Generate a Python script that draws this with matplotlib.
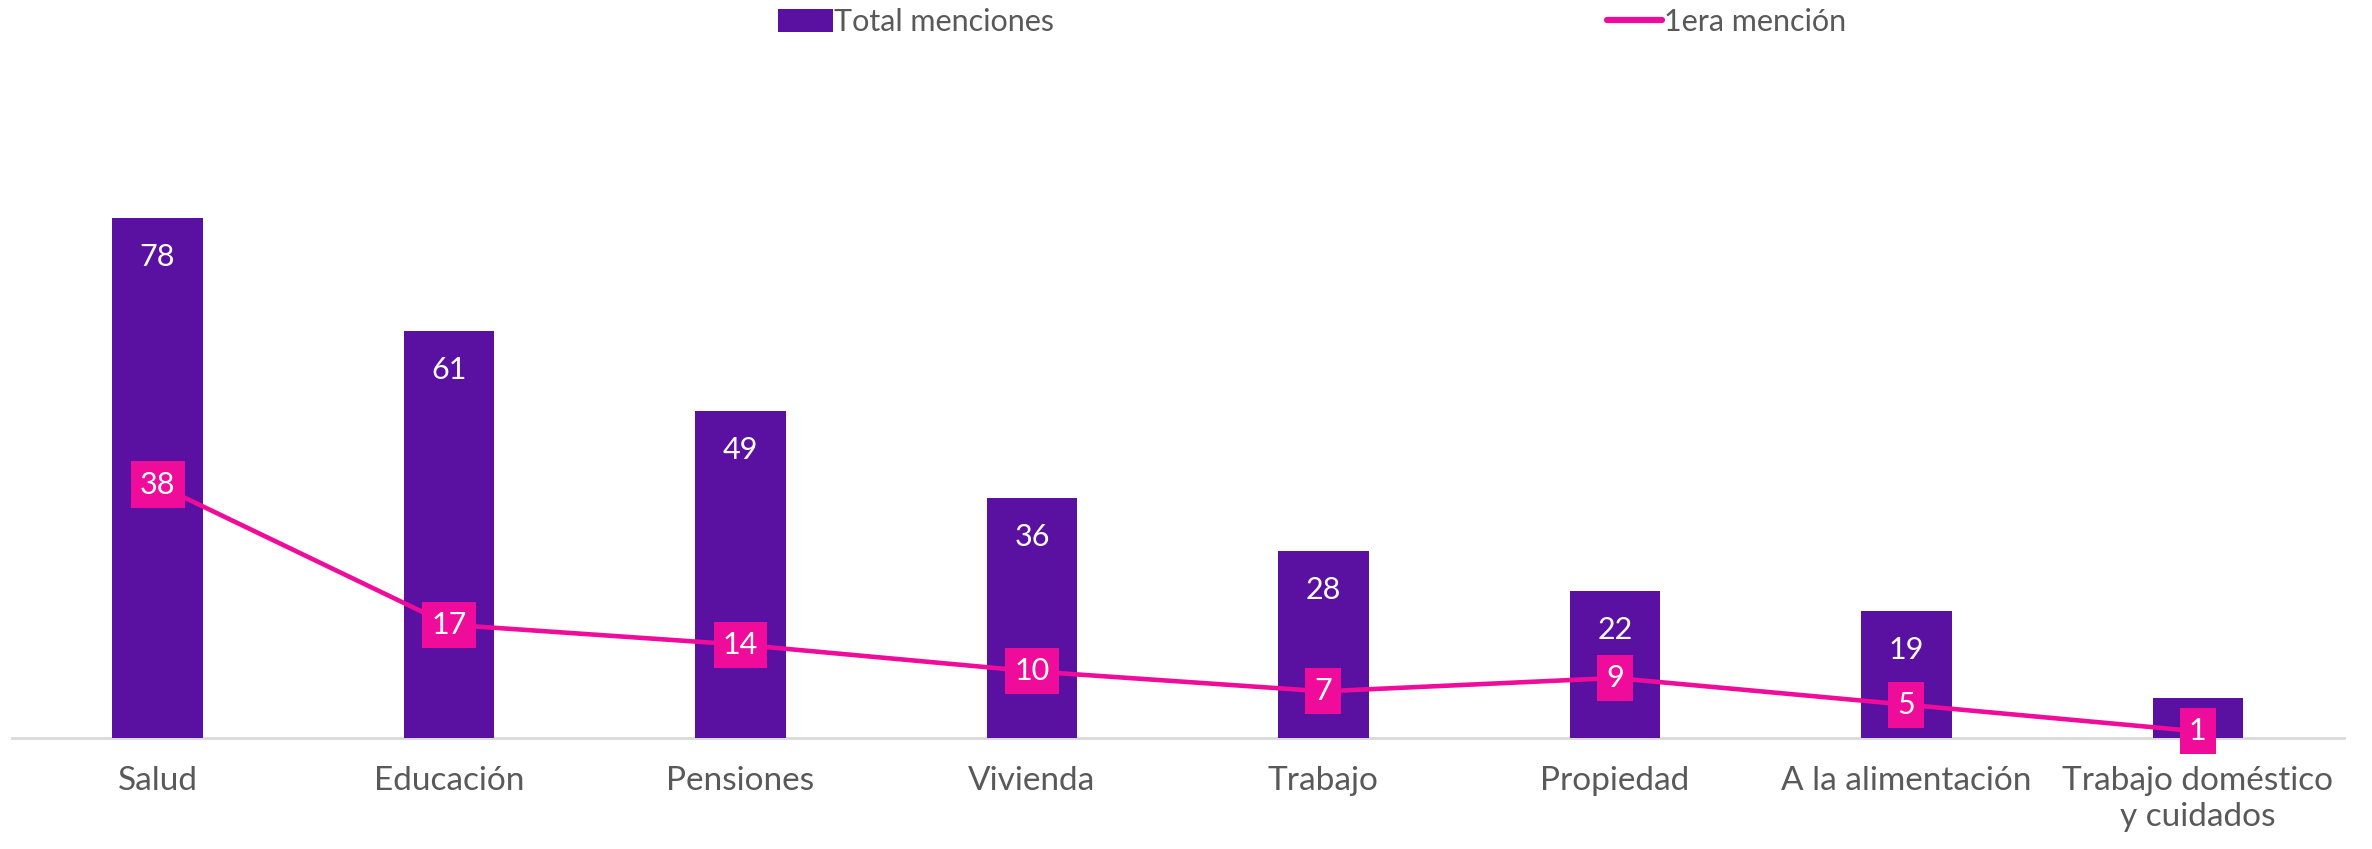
import matplotlib
matplotlib.use("Agg")
import matplotlib.pyplot as plt
from matplotlib.patches import Patch
from matplotlib.lines import Line2D

categories = ["Salud", "Educación", "Pensiones", "Vivienda", "Trabajo", "Propiedad",
              "A la alimentación", "Trabajo doméstico\ny cuidados"]
total_menciones = [78, 61, 49, 36, 28, 22, 19, 6]
primera_mencion = [38, 17, 14, 10, 7, 9, 5, 1]

BAR = "#5A10A0"
PINK = "#F00C9B"
GRAY = "#595959"
FONT = ["Lato", "DejaVu Sans"]
plt.rcParams['font.family'] = FONT

fig = plt.figure(figsize=(23.72, 8.49), dpi=100)
ax = fig.add_axes([0.005, 1 - 738 / 849, 0.983, (738 - 68) / 849])
x = list(range(len(categories)))
bars = ax.bar(x, total_menciones, width=0.31, color=BAR, zorder=2)
ax.plot(x, primera_mencion, color=PINK, lw=3.3, zorder=3)

for xi, v in zip(x, total_menciones):
    ax.annotate(str(v), (xi, v), xytext=(0, -28), textcoords="offset points",
                ha="center", va="center", color="white", fontsize=22, zorder=2.5)
for xi, v in zip(x, primera_mencion):
    ax.text(xi, v, str(v), ha="center", va="center", color="white", fontsize=22, zorder=4,
            bbox=dict(boxstyle="square,pad=0.3", fc=PINK, ec="none"))

ax.set_xlim(-0.5, 7.5)
ax.set_ylim(0, 100.5)
ax.set_xticks(x)
ax.set_xticklabels(categories, fontsize=24, color=GRAY, linespacing=1.25)
ax.tick_params(axis="x", length=0, pad=20)
ax.set_yticks([])
for s in ["top", "right", "left"]:
    ax.spines[s].set_visible(False)
ax.spines["bottom"].set_color("#D9D9D9")
ax.spines["bottom"].set_linewidth(2)
ax.spines["bottom"].set_zorder(1)

handles = [Patch(facecolor=BAR, edgecolor="none"),
           Line2D([0], [0], color=PINK, lw=4.5, solid_capstyle="round")]
fig.legend(handles, ["Total menciones", "1era mención"], loc="center",
           bbox_to_anchor=(0.553, 1 - 22 / 849), ncol=2, frameon=False, fontsize=22,
           labelcolor=GRAY, handlelength=1.8, handletextpad=0.05, columnspacing=18.1,
           handleheight=0.8)

fig.savefig("out.png", dpi=100)
